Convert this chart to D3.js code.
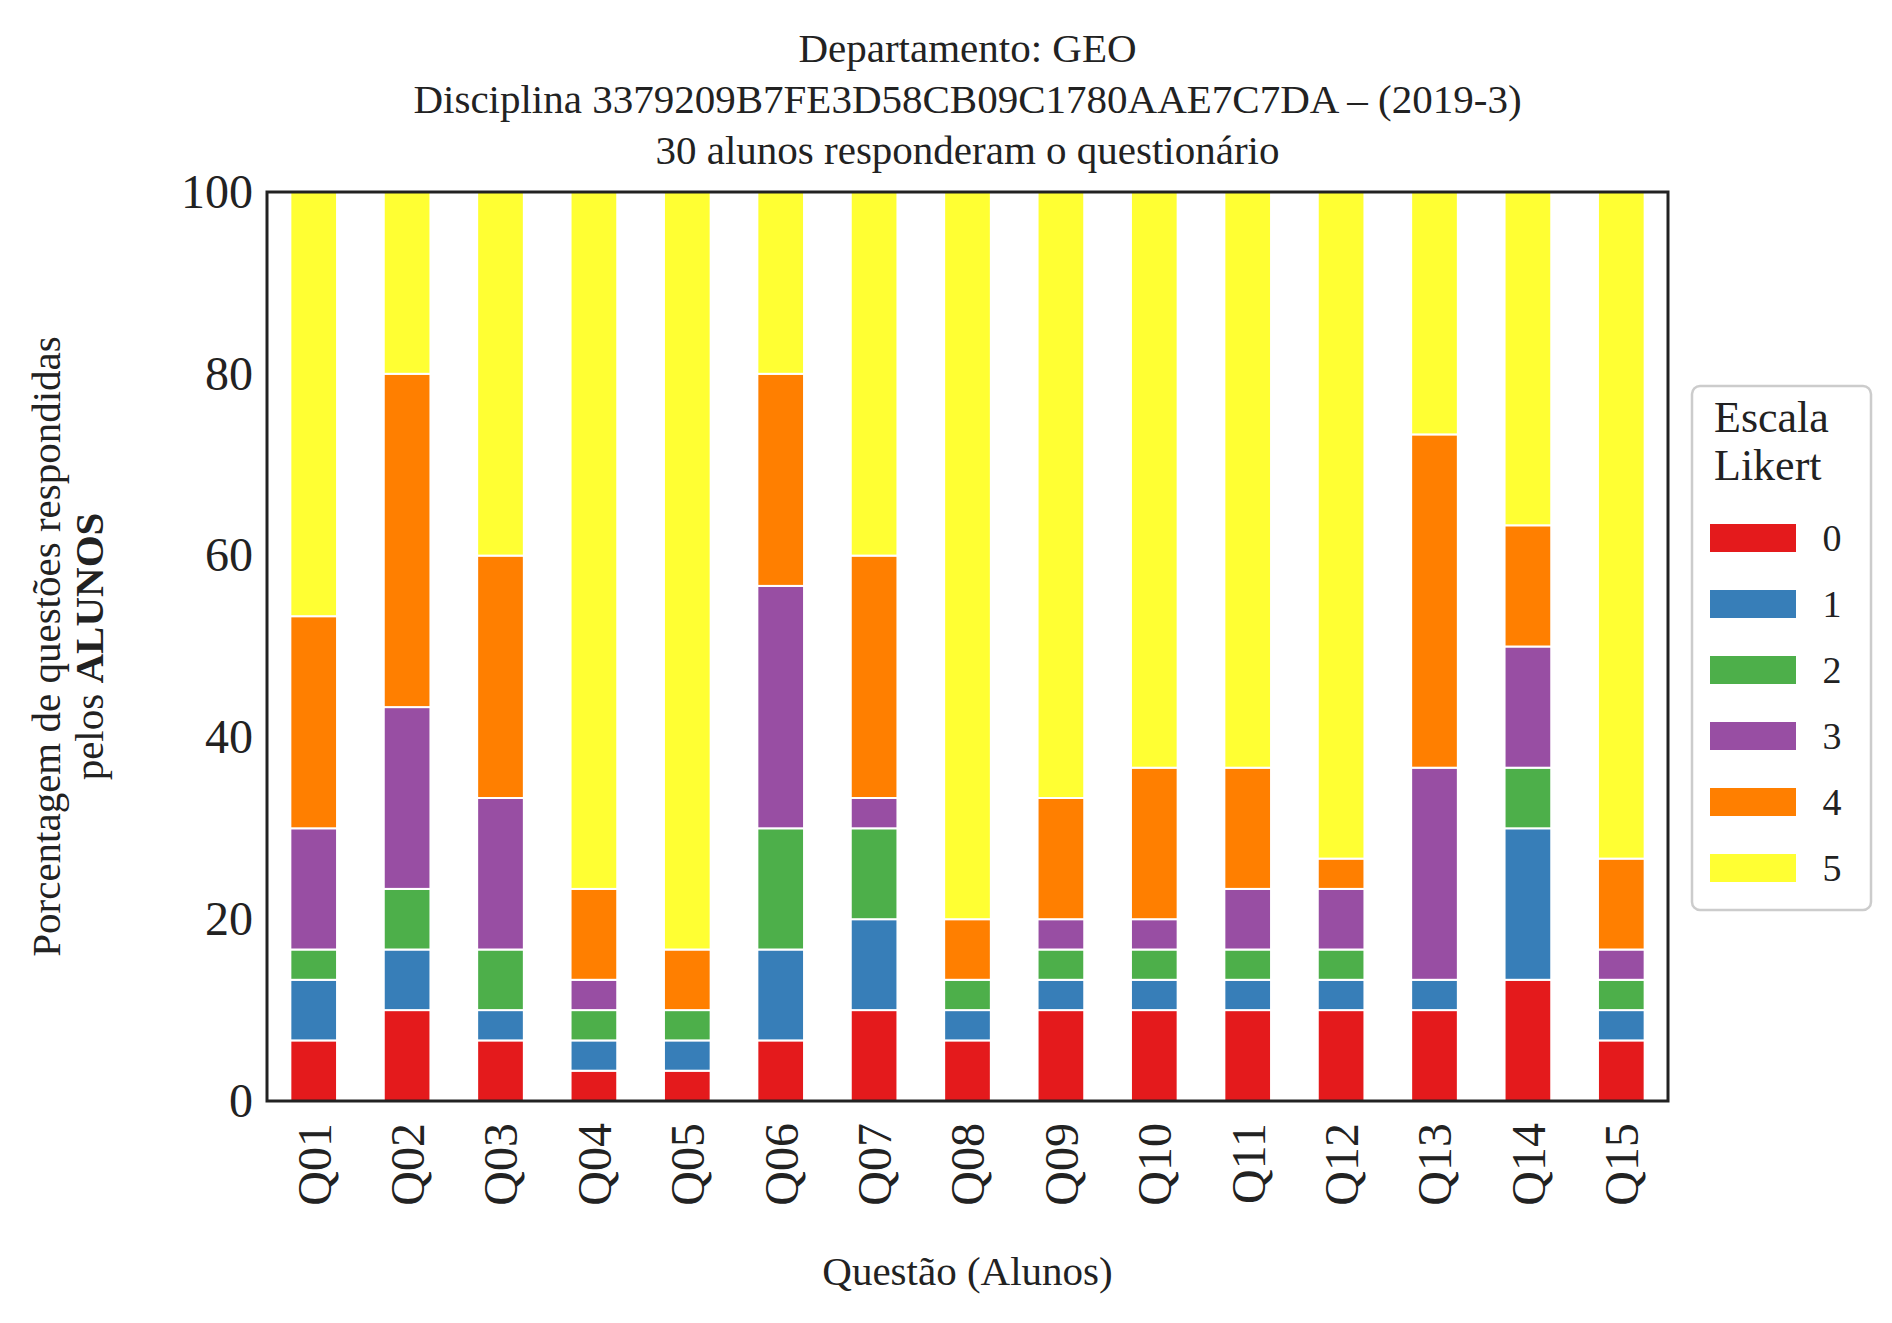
<!DOCTYPE html>
<html><head><meta charset="utf-8">
<script src="https://cdn.jsdelivr.net/npm/d3@7"></script>
<style>body{margin:0;background:#fff}text{font-family:"Liberation Serif",serif;fill:#222}</style>
</head><body>
<svg id="c" width="1892" height="1323"></svg>
<script>
// questions on the x axis
let questions = ["Q01","Q02","Q03","Q04","Q05","Q06","Q07","Q08","Q09","Q10","Q11","Q12","Q13","Q14","Q15"];
let levels = ["0","1","2","3","4","5"];
let colors = ["#e41a1c","#377eb8","#4daf4a","#984ea3","#ff7f00","#ffff33"];
// answer counts per level (30 students)
let count0 = [2,3,2,1,1,2,3,2,3,3,3,3,3,4,2];
let count1 = [2,2,1,1,1,3,3,1,1,1,1,1,1,5,1];
let count2 = [1,2,2,1,1,4,3,1,1,1,1,1,0,2,1];
let count3 = [4,6,5,1,0,8,1,0,1,1,2,2,7,4,1];
let count4 = [7,11,8,3,2,7,8,2,4,5,4,1,11,4,3];
let count5 = [14,6,12,23,25,6,12,24,20,19,19,22,8,11,22];
let yTicks = [0,20,40,60,80,100];
let nStudents = 30;

let counts = [count0,count1,count2,count3,count4,count5];
let rows = questions.map((q,i) => {
    let r = {q: q};
    levels.forEach((l,j) => r[l] = counts[j][i] / nStudents * 100);
    return r;
});

let svg = d3.select("#c");
let L = 267, R = 1668, T = 192, B = 1101;

let x = d3.scaleBand().domain(questions).range([L,R]).paddingInner(0.5).paddingOuter(0.25);
let y = d3.scaleLinear().domain([0,100]).range([B,T]);

let stacked = d3.stack().keys(levels)(rows);
svg.selectAll("g.layer").data(stacked).join("g")
    .attr("fill", (d,i) => colors[i])
    .selectAll("rect").data(d => d).join("rect")
    .attr("x", d => x(d.data.q))
    .attr("width", x.bandwidth())
    .attr("y", d => y(d[1]))
    .attr("height", d => Math.max(0, y(d[0]) - y(d[1])))
    .attr("stroke", "#fff").attr("stroke-width", 2);

svg.append("rect").attr("x",L).attr("y",T).attr("width",R-L).attr("height",B-T)
    .attr("fill","none").attr("stroke","#222").attr("stroke-width",3);

// y axis
let ya = svg.append("g").attr("transform",`translate(${L},0)`)
    .call(d3.axisLeft(y).tickValues(yTicks).tickSize(0).tickPadding(14));
ya.select(".domain").remove();
ya.selectAll("text").style("font-size","48px").style("font-family","Liberation Serif").attr("fill","#222");

// x axis
let xa = svg.append("g").attr("transform",`translate(0,${B})`)
    .call(d3.axisBottom(x).tickSize(0).tickPadding(0));
xa.select(".domain").remove();
xa.selectAll("text").style("font-size","48px").style("font-family","Liberation Serif").attr("fill","#222")
    .attr("transform","rotate(-90)").attr("text-anchor","end")
    .attr("dx","-22px").attr("dy","0.35em").attr("y",0).attr("x",0);

// titles
["Departamento: GEO","Disciplina 3379209B7FE3D58CB09C1780AAE7C7DA – (2019-3)","30 alunos responderam o questionário"]
    .forEach((t,i) => svg.append("text").attr("x",(L+R)/2).attr("y",62+i*51)
        .attr("text-anchor","middle").style("font-size","41px").text(t));

svg.append("text").attr("x",(L+R)/2).attr("y",1285).attr("text-anchor","middle")
    .style("font-size","41px").text("Questão (Alunos)");

let yl = svg.append("text").attr("transform",`translate(60,${(T+B)/2}) rotate(-90)`)
    .attr("text-anchor","middle").style("font-size","41px");
yl.append("tspan").attr("x",0).attr("dy",0).text("Porcentagem de questões respondidas");
let t2 = yl.append("tspan").attr("x",0).attr("dy","1.05em").text("pelos ");
yl.append("tspan").style("font-weight","bold").text("ALUNOS");

// legend
let lg = svg.append("g").attr("transform","translate(1692,386)");
lg.append("rect").attr("width",179).attr("height",524).attr("rx",8)
    .attr("fill","#fff").attr("stroke","#ccc").attr("stroke-width",2.5);
lg.append("text").attr("x",22).attr("y",46).style("font-size","44px").text("Escala");
lg.append("text").attr("x",22).attr("y",94).style("font-size","44px").text("Likert");
levels.forEach((l,i) => {
    let g = lg.append("g").attr("transform",`translate(0,${152+i*66})`);
    g.append("rect").attr("x",18).attr("y",-14).attr("width",86).attr("height",28).attr("fill",colors[i]);
    g.append("text").attr("x",140).attr("y",13).attr("text-anchor","middle").style("font-size","38px").text(l);
});
</script>
</body></html>
